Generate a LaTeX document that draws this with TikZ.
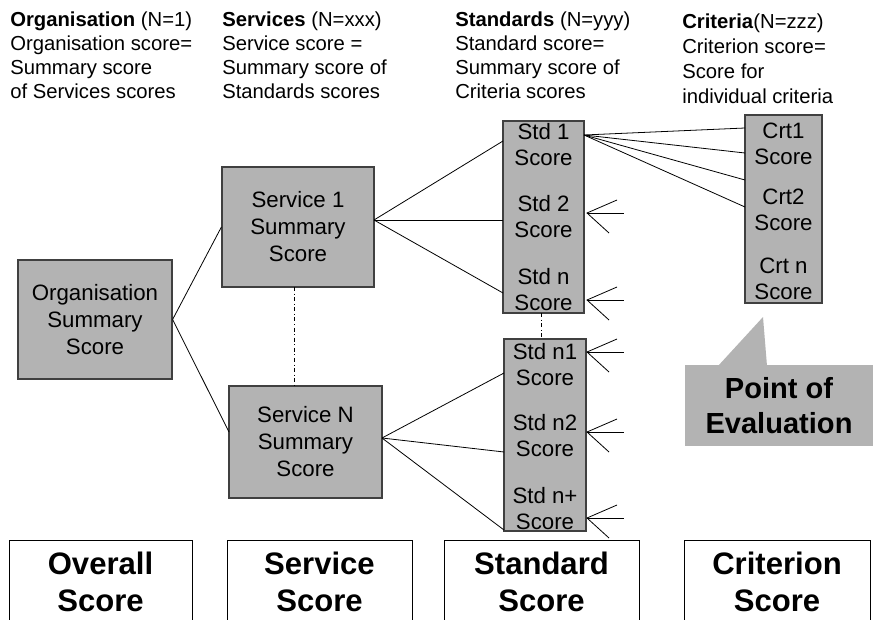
\documentclass[tikz,border=0pt]{standalone}
\usepackage{fontspec}
\setmainfont{Liberation Sans}
\definecolor{boxgray}{RGB}{179,179,179}
\definecolor{edgegray}{RGB}{64,64,64}

\begin{document}
\begin{tikzpicture}[
		x=0.75pt, y=-0.75pt,
		sbox/.style={rectangle, draw=edgegray, fill=boxgray, line width=0.9pt, inner sep=0pt, align=center, font=\fontsize{16.7}{20.25}\selectfont},
		slabel/.style={inner sep=0pt, align=center, font=\fontsize{16.7}{19.5}\selectfont},
		hdr/.style={anchor=north west, inner sep=0pt, align=left, font=\fontsize{15.2}{18}\selectfont},
		lvl/.style={rectangle, draw, line width=0.7pt, inner sep=0pt, minimum height=62.25pt, align=center, font=\bfseries\fontsize{23.3}{27.75}\selectfont},
		link/.style={line width=0.6pt},
		foot/.style={line width=0.6pt},
	]
	\useasboundingbox (0,0) rectangle (877,620);

	% column headings
	\node[hdr] (hdrorg) at (10,12) {\textbf{Organisation} (N=1)\\Organisation score=\\Summary score\\of Services scores};
	\node[hdr] (hdrsvc) at (222,12) {\textbf{Services} (N=xxx)\\Service score =\\Summary score of\\Standards scores};
	\node[hdr] (hdrstd) at (455,12) {\textbf{Standards} (N=yyy)\\Standard score=\\Summary score of\\Criteria scores};
	\node[hdr, font=\fontsize{15.2}{18.75}\selectfont] (hdrcrt) at (682,14) {\textbf{Criteria}(N=zzz)\\Criterion score=\\Score for\\individual criteria};

	% score boxes
	\node[sbox, minimum width=115.5pt, minimum height=89.25pt] (org) at (95,319.5) {Organisation\\Summary\\Score};
	\node[sbox, minimum width=114pt, minimum height=90pt] (svc1) at (298,227) {Service 1\\Summary\\Score};
	\node[sbox, minimum width=114.75pt, minimum height=84pt] (svcN) at (305.5,442) {Service N\\Summary\\Score};
	\node[sbox, minimum width=60.75pt, minimum height=144pt] (stdA) at (543.5,217) {};
	\node[sbox, minimum width=61.5pt, minimum height=144pt] (stdB) at (545,435) {};
	\node[sbox, minimum width=57.75pt, minimum height=141pt] (crt) at (783.5,209) {};

	\node[slabel] (std1) at (543.5,145) {Std 1\\Score};
	\node[slabel] (std2) at (543.5,216.5) {Std 2\\Score};
	\node[slabel] (stdn) at (543.5,290) {Std n\\Score};
	\node[slabel] (stdn1) at (545,364.5) {Std n1\\Score};
	\node[slabel] (stdn2) at (545,436) {Std n2\\Score};
	\node[slabel] (stdnp) at (545,509) {Std n+\\Score};
	\node[slabel] (crt1) at (783.5,144) {Crt1\\Score};
	\node[slabel] (crt2) at (783.5,210) {Crt2\\Score};
	\node[slabel] (crtn) at (783.5,279) {Crt n\\Score};

	% connector ends
	\coordinate (svc1r) at (374,220);
	\coordinate (svcNl) at (229,432);
	\coordinate (svcNr) at (382,438);
	\coordinate (stdAr) at (584,135);
	\coordinate (a1) at (503,141);
	\coordinate (a2) at (503,220);
	\coordinate (a3) at (503,293);
	\coordinate (b1) at (504,373);
	\coordinate (b2) at (504,452);
	\coordinate (b3) at (504,530);
	\coordinate (c1) at (745,128);
	\coordinate (c2) at (745,153);
	\coordinate (c3) at (745,180);
	\coordinate (c4) at (745,207);

	\draw[link] (org.east) -- (svc1.west);
	\draw[link] (org.east) -- (svcNl);
	\draw[link] (svc1r) -- (a1);
	\draw[link] (svc1r) -- (a2);
	\draw[link] (svc1r) -- (a3);
	\draw[link] (svcNr) -- (b1);
	\draw[link] (svcNr) -- (b2);
	\draw[link] (svcNr) -- (b3);
	\foreach \c in {c1,c2,c3,c4}
		\draw[link] (stdAr) -- (\c);

	\coordinate (d1) at (294,287);
	\coordinate (d2) at (294,386);
	\coordinate (d3) at (541,313);
	\coordinate (d4) at (541,339);
	\draw[link, dash dot] (d1) -- (d2);
	\draw[link, dash dot] (d3) -- (d4);

	% incoming criteria
	\foreach \n/\yy in {a/213, b/300, c/352, d/432, e/518} {
		\coordinate (tip\n) at (587,\yy);
		\draw[foot] (tip\n) ++(30,-13) -- (tip\n) -- ++(22,20);
		\draw[foot] (tip\n) -- ++(37,0);
	}

	% callout
	\fill[boxgray] (718,366) -- (763,317) -- (767,366) -- cycle;
	\node[fill=boxgray, inner sep=0pt, minimum width=141pt, minimum height=60.75pt, align=center, font=\bfseries\fontsize{21.8}{26.25}\selectfont] (poe) at (779,405.5) {Point of\\Evaluation};

	% level boxes
	\node[lvl, minimum width=137.25pt] (lvlorg) at (100.5,581.5) {Overall\\Score};
	\node[lvl, minimum width=138.75pt] (lvlsvc) at (319.5,581.5) {Service\\Score};
	\node[lvl, minimum width=146.25pt] (lvlstd) at (541.5,581.5) {Standard\\Score};
	\node[lvl, minimum width=139.5pt] (lvlcrt) at (777,581.5) {Criterion\\Score};
\end{tikzpicture}
\end{document}
